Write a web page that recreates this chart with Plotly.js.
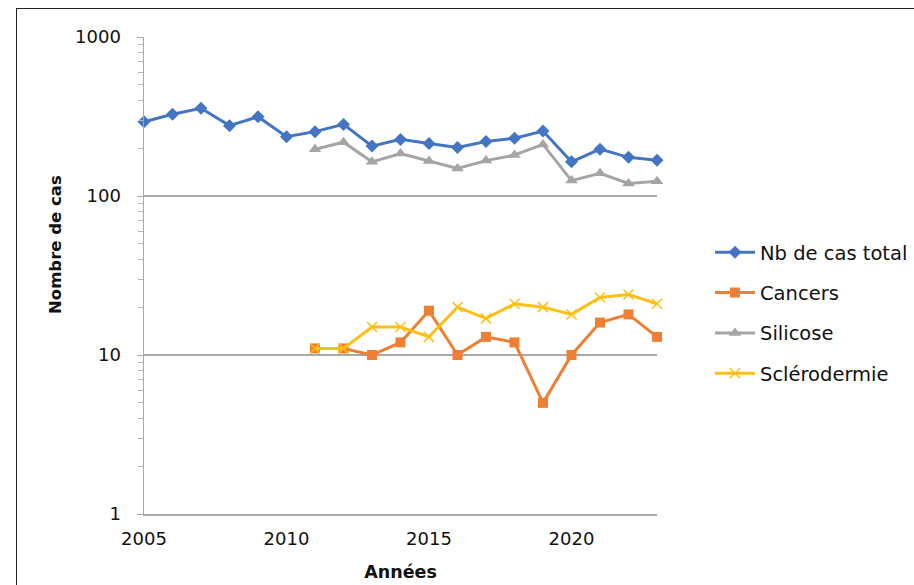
<!DOCTYPE html>
<html><head><meta charset="utf-8">
<script src="https://cdn.plot.ly/plotly-3.0.1.min.js"></script>
<style>
html,body{margin:0;padding:0;background:#fff;}
#frame{position:absolute;left:16px;top:8px;width:920px;height:600px;border-left:1.5px solid #222;border-top:1.5px solid #222;}
#chart{position:absolute;left:0;top:0;width:914px;height:585px;}
</style></head>
<body><div id="frame"></div><div id="chart"></div>
<script>
const yearsTotal = [2005,2006,2007,2008,2009,2010,2011,2012,2013,2014,2015,2016,2017,2018,2019,2020,2021,2022,2023];
const totalCases = [293,327,356,277,315,236,254,282,206,227,214,202,220,231,256,164,197,175,168];
const yearsSub = [2011,2012,2013,2014,2015,2016,2017,2018,2019,2020,2021,2022,2023];
const cancers = [11,11,10,12,19,10,13,12,5,10,16,18,13];
const silicose = [197,218,164,185,166,149,167,181,211,125,139,120,124];
const sclero = [11,11,15,15,13,20,17,21,20,18,23,24,21];
const seriesNames = ["Nb de cas total","Cancers","Silicose","Sclérodermie"];
const yTickVals = [1,10,100,1000];
const yTickText = ["1","10","100","1000"];
const xTickVals = [2005,2010,2015,2020];

const minorVals = [];
[1,10,100].forEach(d=>{for(let k=2;k<=9;k++) minorVals.push(k*d);});

const traces = [
  {x:yearsTotal,y:totalCases,name:seriesNames[0],legendgroup:'a',mode:'lines+markers',cliponaxis:false,
   line:{color:'#4375C2',width:3},marker:{symbol:'diamond',size:10,color:'#4375C2'}},
  {x:yearsSub,y:cancers,name:seriesNames[1],legendgroup:'b',mode:'lines+markers',cliponaxis:false,
   line:{color:'#EF7F33',width:3},marker:{symbol:'square',size:10,color:'#EF7F33'}},
  {x:yearsSub,y:silicose,name:seriesNames[2],legendgroup:'c',mode:'lines+markers',cliponaxis:false,
   line:{color:'#A5A5A5',width:3},marker:{symbol:'triangle-up',size:11,color:'#A5A5A5'}},
  {x:yearsSub,y:sclero,name:seriesNames[3],legendgroup:'d',mode:'lines+markers',cliponaxis:false,
   line:{color:'#FDC012',width:3},marker:{symbol:'x-thin-open',size:10,color:'#FDC012',line:{color:'#FDC012',width:1.5}}}
];

const font = "DejaVu Sans, Verdana, sans-serif";
const layout = {
  width:914,height:585,
  margin:{l:144,r:257,t:37,b:71,autoexpand:false},
  paper_bgcolor:'rgba(0,0,0,0)',plot_bgcolor:'rgba(0,0,0,0)',
  font:{family:font,size:18,color:'#111'},
  showlegend:true,
  legend:{xref:'container',yref:'container',x:710/914,xanchor:'left',y:1-313/585,yanchor:'middle',
    traceorder:'grouped',tracegroupgap:12,
    font:{family:font,size:19.5,color:'#111'},itemwidth:40,bgcolor:'rgba(0,0,0,0)'},
  xaxis:{range:[2005,2023],tickmode:'array',tickvals:xTickVals,ticktext:xTickVals.map(String),
    showgrid:false,zeroline:false,showline:true,linecolor:'#a8a8a8',linewidth:1.5,ticks:'',
    ticklabelstandoff:8,automargin:false,
    tickfont:{family:font,size:18,color:'#111'},
    title:{text:'<b>Années</b>',font:{family:font,size:17.5,color:'#111'},standoff:17}},
  yaxis:{type:'log',range:[0,3],tickmode:'array',tickvals:yTickVals,ticktext:yTickText,automargin:false,
    showgrid:true,gridcolor:'#a8a8a8',gridwidth:1.2,zeroline:false,showline:true,linecolor:'#a8a8a8',linewidth:1.5,
    ticks:'outside',ticklen:6,tickcolor:'#a8a8a8',ticklabelstandoff:12,
    tickfont:{family:font,size:18,color:'#111'},
    minor:{tickmode:'array',tickvals:minorVals,ticks:'outside',ticklen:5,tickcolor:'#b8b8b8',showgrid:false}},
  annotations:[{text:'<b>Nombre de cas</b>',textangle:-90,xref:'paper',yref:'paper',
    x:(55-144)/513,y:(514-245)/477,xanchor:'center',yanchor:'middle',showarrow:false,
    font:{family:font,size:16.5,color:'#111'}}]
};
Plotly.newPlot('chart',traces,layout,{displayModeBar:false,staticPlot:true});
</script></body></html>
